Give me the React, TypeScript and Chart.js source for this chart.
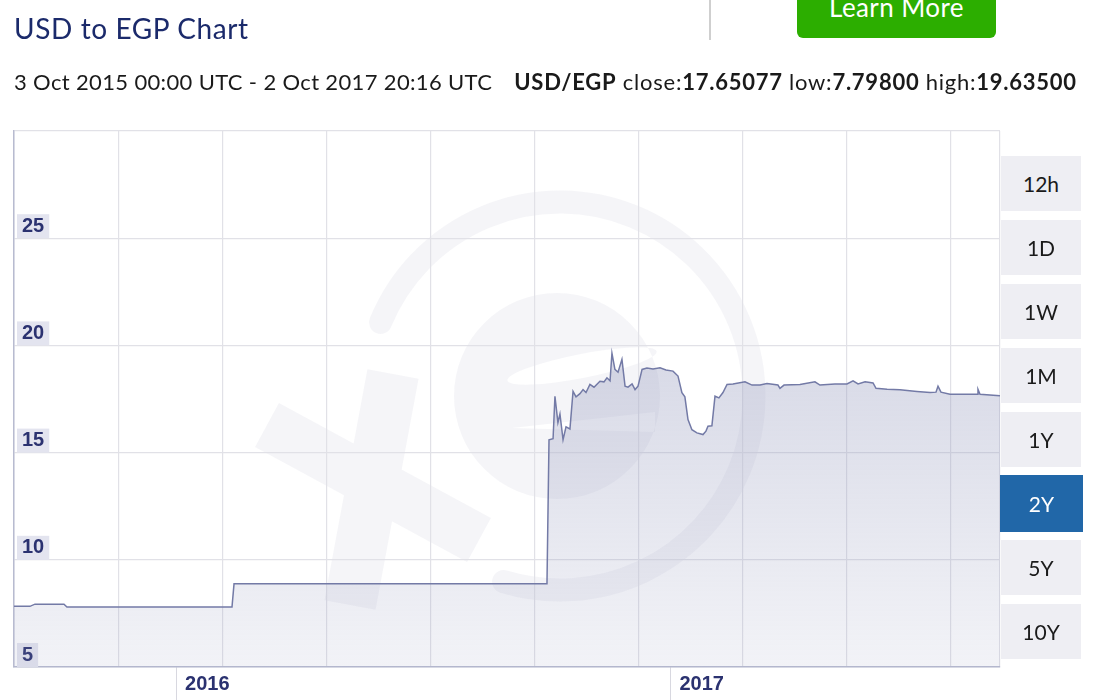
import React, { useEffect, useRef } from 'react';
import { Chart, registerables } from 'chart.js';

Chart.register(...registerables);

// Days since 3 Oct 2015 00:00 UTC
const days = [
  0, 11.8, 15.5, 37.0, 39.2, 161.4, 162.9, 394.6, 396.1, 399.1, 400.5, 402.7, 404.2, 406.5, 408.7,
  411.6, 413.9, 416.1, 419.0, 421.3, 423.5, 426.4, 429.4, 433.8, 436.8, 439.0, 441.3, 442.7, 444.9,
  447.2, 450.1, 452.4, 454.6, 457.6, 459.8, 462.0, 465.0, 468.6, 473.1, 478.3, 482.7, 487.9, 491.6,
  494.5, 496.7, 499.0, 501.9, 505.6, 510.1, 512.3, 513.8, 516.7, 519.0, 521.9, 524.9, 527.9, 532.3,
  541.2, 546.4, 552.3, 557.5, 565.6, 567.1, 570.1, 581.9, 593.0, 596.7, 607.8, 616.7, 621.2, 624.9,
  630.1, 636.0, 638.2, 646.4, 656.0, 668.5, 678.2, 682.6, 684.1, 686.3, 693.0, 704.1, 713.0, 713.7,
  715.2, 730,
];
const rates = [
  7.83, 7.83, 7.93, 7.93, 7.80, 7.80, 8.88, 8.88, 15.6, 15.65, 17.63, 16.4, 16.8, 15.6, 16.2,
  16.1, 17.86, 17.6, 17.75, 17.94, 17.8, 18.18, 18.05, 18.33, 18.3, 18.49, 18.35, 19.635, 18.88,
  18.75, 19.35, 18.1, 18.05, 18.2, 17.94, 18.1, 18.88, 18.95, 18.9, 18.96, 18.85, 18.8, 18.57,
  17.79, 17.6, 16.54, 16.07, 15.92, 15.84, 16.0, 16.23, 16.25, 17.63, 17.55, 17.8, 18.18, 18.2,
  18.3, 18.15, 18.15, 18.22, 18.15, 18.0, 18.15, 18.18, 18.3, 18.15, 18.2, 18.2, 18.35, 18.2,
  18.3, 18.25, 18.0, 17.95, 17.93, 17.85, 17.8, 17.82, 18.1, 17.82, 17.72, 17.72, 17.72, 17.95,
  17.72, 17.65077,
];

const yTicks = [5, 10, 15, 20, 25, 30];
const gridDays = [0, 77.7, 154.7, 231.7, 308.7, 385.7, 462.7, 539.7, 616.7, 693.7, 730];
const yearTicks = [120, 486];
const yearLabels = ['2016', '2017'];
const rangeButtons = ['12h', '1D', '1W', '1M', '1Y', '2Y', '5Y', '10Y'];
const activeRange = '2Y';

const NAVY = '#2b3270';
const WM = 'rgba(120,120,165,0.075)';

const rad = (d: number) => (d * Math.PI) / 180;

function bar(ctx: CanvasRenderingContext2D, x1: number, y1: number, x2: number, y2: number, w: number, r: number) {
  const len = Math.hypot(x2 - x1, y2 - y1);
  const ang = Math.atan2(y2 - y1, x2 - x1);
  ctx.save();
  ctx.translate(x1, y1);
  ctx.rotate(ang);
  ctx.beginPath();
  (ctx as any).roundRect(0, -w / 2, len, w, r);
  ctx.restore();
}

const watermark = {
  id: 'watermark',
  beforeDraw(chart: any) {
    const { ctx, chartArea: a } = chart;
    if (!a) return;
    ctx.save();
    ctx.beginPath();
    ctx.rect(a.left, a.top, a.right - a.left, a.bottom - a.top);
    ctx.clip();
    ctx.strokeStyle = WM;
    ctx.fillStyle = WM;
    ctx.lineCap = 'round';
    // ring
    ctx.lineWidth = 23;
    ctx.beginPath();
    ctx.arc(560, 396, 194, rad(202.3), rad(466.9));
    ctx.stroke();
    // X (single path so the crossing is not darker)
    ctx.beginPath();
    const addBar = (x1: number, y1: number, x2: number, y2: number, w: number) => {
      const len = Math.hypot(x2 - x1, y2 - y1);
      const ux = (x2 - x1) / len, uy = (y2 - y1) / len;
      const nx = -uy * (w / 2), ny = ux * (w / 2);
      ctx.moveTo(x1 + nx, y1 + ny);
      ctx.lineTo(x2 + nx, y2 + ny);
      ctx.lineTo(x2 - nx, y2 - ny);
      ctx.lineTo(x1 - nx, y1 - ny);
      ctx.closePath();
    };
    addBar(267, 425, 479, 540, 50);
    addBar(393, 374, 350, 605, 52);
    ctx.lineJoin = 'round';
    ctx.lineWidth = 10;
    ctx.fill('nonzero');
    // e
    ctx.beginPath();
    ctx.arc(557, 396, 103, 0, Math.PI * 2);
    ctx.ellipse(582, 366, 76, 12, rad(-11), 0, Math.PI * 2);
    ctx.moveTo(512, 428);
    ctx.lineTo(655, 412);
    ctx.lineTo(655, 432);
    ctx.closePath();
    ctx.fill('evenodd');
    ctx.restore();
  },
};

export default function App() {
  const ref = useRef<HTMLCanvasElement | null>(null);

  useEffect(() => {
    if (!ref.current) return;
    const chart = new Chart(ref.current, {
      type: 'line',
      data: {
        datasets: [
          {
            label: 'USD/EGP',
            data: days.map((d, i) => ({ x: d, y: rates[i] })),
            borderColor: '#737aa6',
            borderWidth: 1.5,
            pointRadius: 0,
            tension: 0,
            fill: 'start',
            backgroundColor: (ctx: any) => {
              const { chart } = ctx;
              const { chartArea, scales } = chart;
              if (!chartArea) return 'rgba(150,155,190,0.3)';
              const g = chart.ctx.createLinearGradient(0, scales.y.getPixelForValue(20), 0, chartArea.bottom);
              g.addColorStop(0, 'rgba(150,155,190,0.38)');
              g.addColorStop(1, 'rgba(150,155,190,0.12)');
              return g;
            },
          },
        ],
      },
      options: {
        animation: false,
        responsive: false,
        maintainAspectRatio: false,
        layout: { padding: { left: 14, top: 131, right: 107, bottom: 0 } },
        plugins: { legend: { display: false }, tooltip: { enabled: false } },
        scales: {
          x: {
            type: 'linear',
            min: 0,
            max: 730,
            position: 'bottom',
            afterBuildTicks: (s: any) => {
              s.ticks = gridDays.map((v) => ({ value: v }));
            },
            afterFit: (s: any) => {
              s.height = 0;
            },
            ticks: { display: false },
            grid: { color: '#e1e1e7', lineWidth: 1.2, drawTicks: false },
            border: { display: true, color: '#b8bbd0', width: 1.5 },
          },
          x2: {
            type: 'linear',
            min: 0,
            max: 730,
            position: 'bottom',
            afterBuildTicks: (s: any) => {
              s.ticks = yearTicks.map((v) => ({ value: v }));
            },
            afterFit: (s: any) => {
              s.height = 33;
            },
            ticks: {
              callback: (_v: any, i: number) => yearLabels[i],
              align: 'start',
              labelOffset: 9,
              padding: -28,
              maxRotation: 0,
              autoSkip: false,
              color: NAVY,
              font: { family: '"Liberation Sans", Arial, sans-serif', size: 20, weight: 'bold' },
            },
            grid: { drawOnChartArea: false, drawTicks: true, tickLength: 33, color: '#d8d8e0' },
            border: { display: false },
          },
          y: {
            type: 'linear',
            min: 5,
            max: 30,
            position: 'left',
            afterBuildTicks: (s: any) => {
              s.ticks = yTicks.map((v) => ({ value: v }));
            },
            afterFit: (s: any) => {
              s.width = 0;
            },
            grid: { color: '#e1e1e7', lineWidth: 1.2, drawTicks: false },
            border: { display: true, color: '#b8bbd0', width: 1.5 },
            ticks: {
              mirror: true,
              padding: 8,
              labelOffset: -12,
              color: NAVY,
              font: { family: '"Liberation Sans", Arial, sans-serif', size: 20, weight: 'bold' },
              callback: (v: any) => (v === 30 ? '' : String(v)),
              showLabelBackdrop: true,
              backdropColor: (c: any) => (c.tick && c.tick.value === 30 ? 'rgba(0,0,0,0)' : '#e3e4ef'),
              backdropPadding: { left: 5, right: 5, top: 0, bottom: 0 },
            },
          },
        },
      } as any,
      plugins: [watermark],
    });
    return () => chart.destroy();
  }, []);

  const font = 'Lato, "Open Sans", sans-serif';

  return (
    <div style={{ position: 'fixed', left: 0, top: 0, width: 1107, height: 700, background: '#fff', overflow: 'hidden', fontFamily: font }}>
      <canvas ref={ref} width={1107} height={700} style={{ position: 'absolute', left: 0, top: 0, width: 1107, height: 700 }} />
      <div style={{ position: 'absolute', left: 14, top: 10, fontSize: 28, letterSpacing: 0.6, color: '#1b2a6b', lineHeight: '36px', whiteSpace: 'nowrap' }}>
        USD to EGP Chart
      </div>
      <div style={{ position: 'absolute', left: 709, top: 0, width: 2, height: 40, background: '#cfcfcf' }} />
      <div
        style={{
          position: 'absolute', left: 797, top: -14, width: 199, height: 52, background: '#2cae00', borderRadius: 6,
          color: '#fff', fontSize: 26, letterSpacing: 0.4, lineHeight: '42px', textAlign: 'center', whiteSpace: 'nowrap',
        }}
      >
        Learn More
      </div>
      <div style={{ position: 'absolute', left: 14, top: 68, fontSize: 22, color: '#1a1a1a', lineHeight: '28px', whiteSpace: 'nowrap' }}>
        <span style={{ letterSpacing: 0.35 }}>3 Oct 2015 00:00 UTC - 2 Oct 2017 20:16 UTC</span>
        <span style={{ marginLeft: 22, letterSpacing: 0.75 }}>
          <b>USD/EGP</b> close:<b>17.65077</b> low:<b>7.79800</b> high:<b>19.63500</b>
        </span>
      </div>
      {rangeButtons.map((b, i) => {
        const active = b === activeRange;
        return (
          <div
            key={b}
            style={{
              position: 'absolute',
              left: active ? 1000 : 1001,
              top: active ? 475 : 156 + 64 * i,
              width: active ? 83 : 80,
              height: active ? 57 : 55,
              background: active ? '#2167a8' : '#eeeef3',
              color: active ? '#fff' : '#1a1a1a',
              fontSize: 21,
              lineHeight: active ? '57px' : '55px',
              textAlign: 'center',
            }}
          >
            {b}
          </div>
        );
      })}
    </div>
  );
}
